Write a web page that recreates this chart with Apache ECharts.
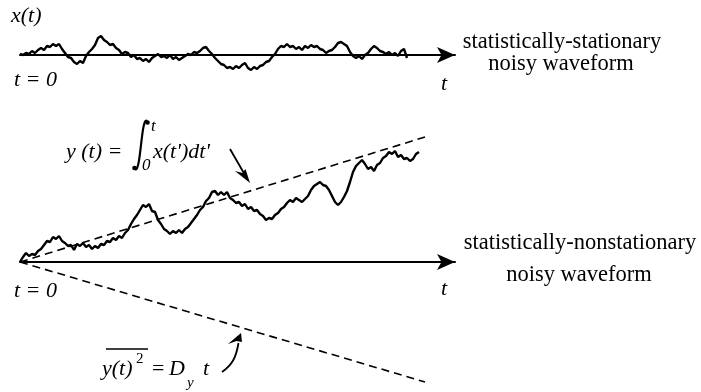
<!DOCTYPE html>
<html><head><meta charset="utf-8">
<script src="https://cdn.jsdelivr.net/npm/echarts@6/dist/echarts.min.js"></script>
<style>html,body{margin:0;padding:0;background:#fff}#c{width:701px;height:392px}</style>
</head><body><div id="c"></div>
<script>
// statistically-stationary waveform x(t), sampled every timeStep units
const stationaryX = [1,0,2,1,4,2,5,7,5,9, 8,11,9,11,6,2,-2,-3,-7,-9, -6,-8,-1,3,6,10,17,19,15,13,
  10,11,7,5,1,3,2,-2,0,-4, -3,-6,-4,-7,-3,-1,1,-2,-1,-3, 0,-4,-2,-5,-3,-1,1,0,3,2,
  4,7,8,4,1,-3,-6,-9,-10,-13, -12,-14,-11,-13,-10,-8,-13,-15,-12,-14, -11,-10,-7,-6,-2,1,6,9,8,11,
  8,9,6,8,5,9,7,10,8,9, 6,5,2,4,5,8,12,13,11,9, 3,-1,-3,-1,-4,0,2,6,9,7, 4,3,1,3,0,2,-1,4,6,-3];
// statistically-nonstationary waveform y(t)
const nonstationaryY = [0,5,9,6,8,7,11,13,17,21, 20,25,23,26,21,19,16,17,12,18, 16,19,15,17,13,16,14,18,17,21,
  20,24,22,26,24,29,32,38,43,47, 52,57,55,58,51,50,42,38,33,31, 28,31,29,32,29,33,35,39,43,47,
  52,55,61,64,70,71,67,70,67,70, 64,62,59,60,56,58,53,55,51,52, 48,46,42,44,43,47,49,53,55,59,
  62,60,64,62,60,63,66,72,76,78, 80,77,76,72,66,60,57,60,65,71, 80,90,96,99,102,98,93,95,91,97,
  99,104,106,110,108,111,105,107,103,104, 101,103,108,110];
const timeStep = 3;
// dashed envelope lines
const trendT = [0, 405];
const trendUpper = [0, 125];
const trendLower = [0, -120];

const topT = stationaryX.map((_, i) => i * timeStep);
const botT = nonstationaryY.map((_, i) => i * timeStep);
const zip = (a, b) => a.map((v, i) => [v, b[i]]);

const chart = echarts.init(document.getElementById('c'), null, {renderer: 'canvas'});
const axisLineCfg = {show: true, onZero: true, symbol: ['none', 'arrow'], symbolSize: [12, 18],
  lineStyle: {color: '#000', width: 2}};
const xAx = (g) => ({gridIndex: g, type: 'value', min: 0, max: 435, axisLine: axisLineCfg,
  axisTick: {show: false}, axisLabel: {show: false}, splitLine: {show: false}});
const SERIF = '"Liberation Serif", "Times New Roman", serif';
const txt = (x, y, text, size, italic, align) => ({type: 'text', x, y, z: 10,
  style: {text, font: (italic ? 'italic ' : '') + size + 'px ' + SERIF, fill: '#000',
    align: align || 'left', verticalAlign: 'middle'}});

const option = {
  animation: false,
  backgroundColor: '#fff',
  grid: [{left: 20, top: 25, width: 435, height: 60}, {left: 20, top: 125, width: 435, height: 265}],
  xAxis: [xAx(0), xAx(1)],
  yAxis: [{gridIndex: 0, type: 'value', min: -30, max: 30, show: false},
          {gridIndex: 1, type: 'value', min: -128, max: 137, show: false}],
  series: [
    {type: 'line', xAxisIndex: 0, yAxisIndex: 0, data: zip(topT, stationaryX), symbol: 'none',
      lineStyle: {color: '#000', width: 2.4}, z: 3},
    {type: 'line', xAxisIndex: 1, yAxisIndex: 1, data: zip(botT, nonstationaryY), symbol: 'none',
      lineStyle: {color: '#000', width: 2.4}, z: 3},
    {type: 'line', xAxisIndex: 1, yAxisIndex: 1, data: zip(trendT, trendUpper), symbol: 'none',
      lineStyle: {color: '#000', width: 1.6, type: [8, 5]}, z: 2},
    {type: 'line', xAxisIndex: 1, yAxisIndex: 1, data: zip(trendT, trendLower), symbol: 'none',
      lineStyle: {color: '#000', width: 1.6, type: [8, 5]}, z: 2}
  ],
  graphic: [
    txt(11, 16, 'x(t)', 22, true),
    txt(14, 80, 't = 0', 22, true),
    txt(441, 84, 't', 22, true),
    txt(562, 42, 'statistically-stationary', 22.5, false, 'center'),
    txt(561, 64, 'noisy waveform', 22.5, false, 'center'),
    txt(580, 243, 'statistically-nonstationary', 22.5, false, 'center'),
    txt(579, 275, 'noisy waveform', 22.5, false, 'center'),
    txt(441, 289, 't', 22, true),
    txt(14, 291, 't = 0', 22, true),
    // y(t) = integral
    txt(66, 152, 'y (t) =', 22, true),
    txt(151, 127, 't', 17, true),
    txt(142, 166, '0', 17, true),
    txt(153, 152, "x(t')dt'", 22, true),
    {type: 'bezierCurve', z: 10, shape: {x1: 147, y1: 121, cpx1: 141, cpy1: 116, cpx2: 141, cpy2: 174, x2: 135, y2: 169},
      style: {stroke: '#000', lineWidth: 2.2, fill: null}},
    {type: 'circle', z: 10, shape: {cx: 147.5, cy: 122.5, r: 2.3}, style: {fill: '#000'}},
    {type: 'circle', z: 10, shape: {cx: 134.5, cy: 168, r: 2.3}, style: {fill: '#000'}},
    // arrow 1
    {type: 'line', z: 10, shape: {x1: 230, y1: 149, x2: 245, y2: 175}, style: {stroke: '#000', lineWidth: 1.8}},
    {type: 'polygon', z: 10, shape: {points: [[250, 183], [235, 171], [242.5, 173], [245.5, 169]]}, style: {fill: '#000'}},
    // lower equation
    txt(102, 369, 'y(t)', 22, true),
    txt(136, 359, '2', 15, false),
    {type: 'line', z: 10, shape: {x1: 106, y1: 349, x2: 148, y2: 349}, style: {stroke: '#000', lineWidth: 1.5}},
    txt(152, 369, '=', 22, false),
    txt(169, 369, 'D', 22, true),
    txt(187, 383, 'y', 15, true),
    txt(203, 369, 't', 22, true),
    // arrow 2
    {type: 'bezierCurve', z: 10, shape: {x1: 222, y1: 372, cpx1: 232, cpy1: 365, cpx2: 236, cpy2: 358, x2: 238.5, y2: 343},
      style: {stroke: '#000', lineWidth: 1.8, fill: null}},
    {type: 'polygon', z: 10, shape: {points: [[241, 333], [228, 344], [236.5, 341], [242, 342]]}, style: {fill: '#000'}}
  ]
};
chart.setOption(option);
</script></body></html>
